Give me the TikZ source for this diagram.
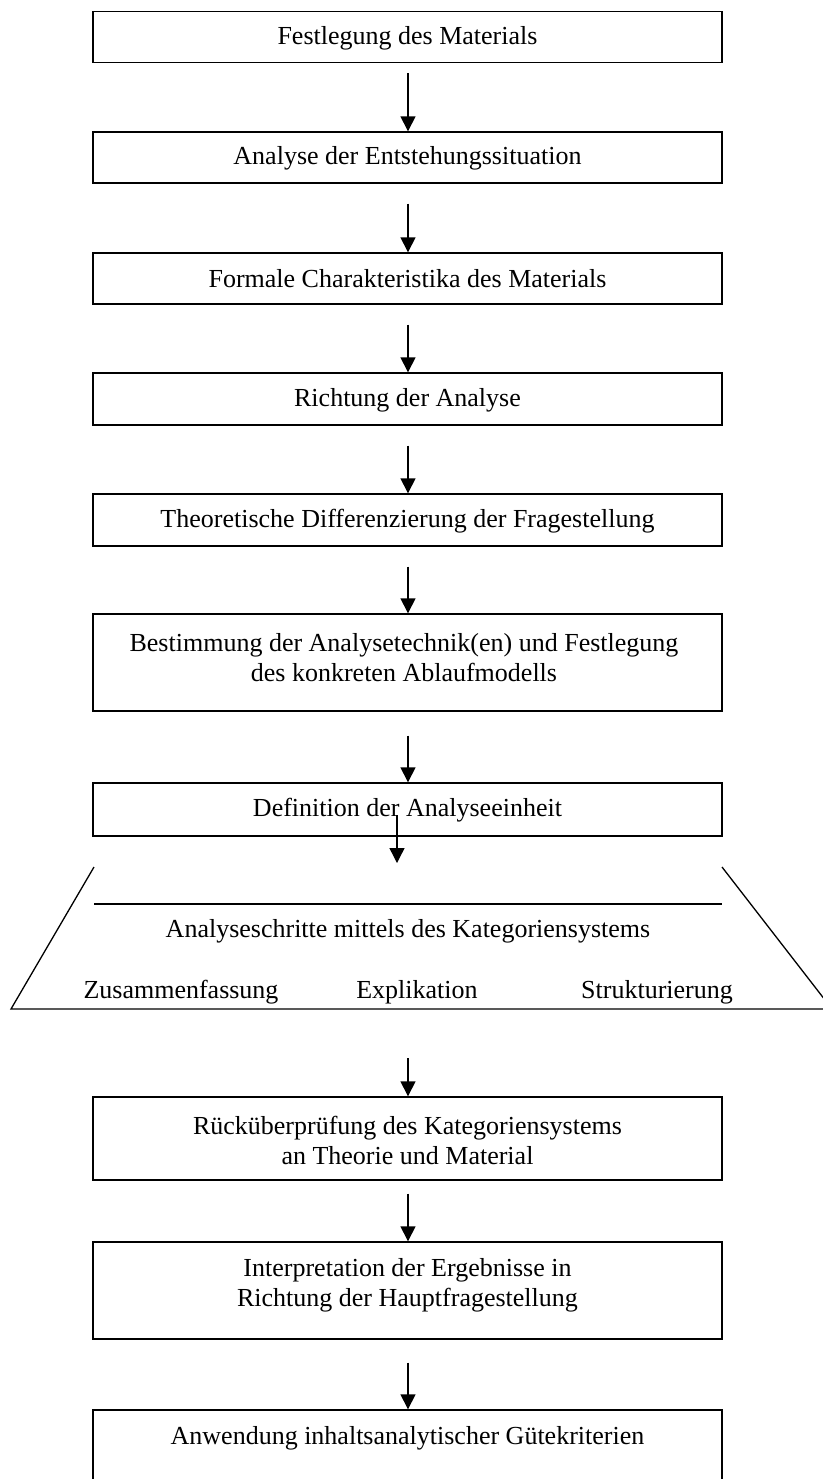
\documentclass[tikz,border=0pt]{standalone}
\usepackage{fontspec}
\setmainfont{Liberation Serif}
\usetikzlibrary{arrows.meta}
\begin{document}
\begin{tikzpicture}[x=0.5pt,y=-0.5pt,
  box/.style={draw, line width=0.7pt, minimum width=314.5pt, inner sep=0pt},
  txt/.style={font=\fontsize{13}{15}\selectfont, align=center, inner sep=0pt},
  flow/.style={-{Triangle[length=7.5pt,width=7.5pt]}, line width=0.7pt},
  trap/.style={line width=0.65pt}]
\useasboundingbox (0,0) rectangle (823,1479);
\clip (0,0) rectangle (823,1479);
\fill[white] (0,0) rectangle (823,1479);
% boxes
\node[box, minimum height=25.5pt] (b1) at (407.5,37.2) {};
\node[txt] (t1) at (407.5,38) {Festlegung des Materials};
\node[box, minimum height=25.5pt] (b2) at (407.5,157.5) {};
\node[txt] (t2) at (407.5,158) {Analyse der Entstehungssituation};
\node[box, minimum height=25.5pt] (b3) at (407.5,278.5) {};
\node[txt] (t3) at (407.5,279) {Formale Charakteristika des Materials};
\node[box, minimum height=26pt] (b4) at (407.5,399) {};
\node[txt] (t4) at (407.5,400) {Richtung der Analyse};
\node[box, minimum height=26pt] (b5) at (407.5,520) {};
\node[txt] (t5) at (407.5,521) {Theoretische Differenzierung der Fragestellung};
\node[box, minimum height=48.5pt] (b6) at (407.5,662.5) {};
\node[txt] (t6) at (404,658) {Bestimmung der Analysetechnik(en) und Festlegung\\ des konkreten Ablaufmodells};
\node[box, minimum height=26.5pt] (b7) at (407.5,809.5) {};
\node[txt] (t7) at (407.5,810) {Definition der Analyseeinheit};
% trapezoid
\coordinate (tl) at (94,867);
\coordinate (tr) at (722,867);
\coordinate (bl) at (11,1009);
\coordinate (br) at (832,1009);
\coordinate (ml) at (94,904);
\coordinate (mr) at (722,904);
\coordinate (tb) at (408,1009);
\draw[trap] (tl) -- (bl) -- (br) -- (tr);
\draw[trap] (ml) -- (mr);
\node[txt] (t8) at (408,931) {Analyseschritte mittels des Kategoriensystems};
\node[txt] (z1) at (181,992) {Zusammenfassung};
\node[txt] (z2) at (417,992) {Explikation};
\node[txt] (z3) at (657,992) {Strukturierung};
% lower boxes
\node[box, minimum height=41.5pt] (b8) at (407.5,1138.5) {};
\node[txt] (t9) at (407.5,1140) {Rücküberprüfung des Kategoriensystems\\ an Theorie und Material};
\node[box, minimum height=48.5pt] (b9) at (407.5,1290.5) {};
\node[txt] (t10) at (407.5,1285) {Interpretation der Ergebnisse in\\ Richtung der Hauptfragestellung};
\node[box, minimum height=60pt] (b10) at (407.5,1470) {};
\node[txt] (t11) at (407.5,1438) {Anwendung inhaltsanalytischer Gütekriterien};
% arrows
\coordinate (a7s) at (397,815);
\coordinate (a7e) at (397,863);
\draw[flow, shorten <=5pt] (b1.south -| 408,0) -- (b2.north -| 408,0);
\draw[flow, shorten <=10pt] (b2.south -| 408,0) -- (b3.north -| 408,0);
\draw[flow, shorten <=10pt] (b3.south -| 408,0) -- (b4.north -| 408,0);
\draw[flow, shorten <=10pt] (b4.south -| 408,0) -- (b5.north -| 408,0);
\draw[flow, shorten <=10pt] (b5.south -| 408,0) -- (b6.north -| 408,0);
\draw[flow, shorten <=12pt] (b6.south -| 408,0) -- (b7.north -| 408,0);
\draw[flow] (a7s) -- (a7e);
\draw[flow, shorten <=24.5pt] (tb) -- (b8.north -| 408,0);
\draw[flow, shorten <=6.5pt] (b8.south -| 408,0) -- (b9.north -| 408,0);
\draw[flow, shorten <=11.5pt] (b9.south -| 408,0) -- (b10.north -| 408,0);
\end{tikzpicture}
\end{document}
